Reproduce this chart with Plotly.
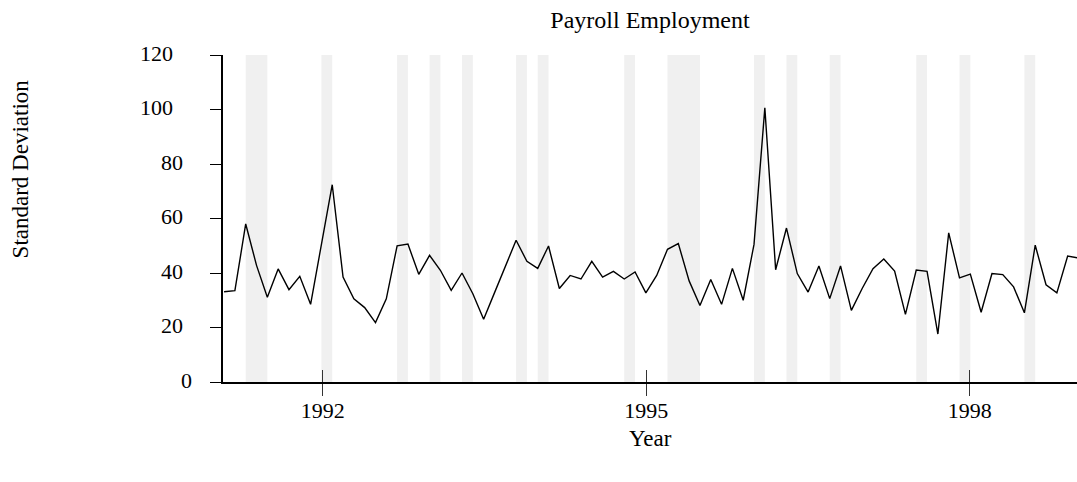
import plotly.graph_objects as go

# ---- data ----
start_year = 1991.085
step_year = 0.1003
std_dev = [
    33.1, 33.5, 58.0, 42.8, 31.1, 41.5, 33.9, 38.8, 28.5, 50.5,
    72.4, 38.5, 30.5, 27.3, 21.8, 30.5, 50.0, 50.6, 39.5, 46.5,
    41.0, 33.6, 40.0, 32.4, 23.0, 32.7, 42.3, 52.0, 44.3, 41.7,
    49.9, 34.3, 39.1, 37.8, 44.3, 38.5, 40.6, 37.8, 40.4, 32.7,
    39.1, 48.7, 50.8, 37.1, 28.1, 37.6, 28.5, 41.7, 30.0, 50.5,
    100.6, 41.2, 56.5, 39.8, 33.0, 42.6, 30.6, 42.6, 26.3, 34.3,
    41.6, 45.1, 40.7, 24.8, 41.1, 40.6, 17.6, 54.7, 38.2, 39.6,
    25.6, 39.8, 39.4, 34.9, 25.4, 50.2, 35.7, 32.7, 46.2, 45.5,
]
years = [round(start_year + step_year * i, 4) for i in range(len(std_dev))]

# shaded periods, as (start index, end index) into the series
shade_periods = [(2, 4), (9, 10), (16, 17), (19, 20), (22, 23), (27, 28), (29, 30),
                 (37, 38), (41, 44), (49, 50), (52, 53), (56, 57), (64, 65),
                 (68, 69), (74, 75)]

x_tick_vals = [1992, 1995, 1998]
x_tick_text = ["1992", "1995", "1998"]
y_tick_vals = [0, 20, 40, 60, 80, 100, 120]
y_tick_text = ["0", "20", "40", "60", "80", "100", "120"]

FONT = "Liberation Serif, Times New Roman, serif"
FS = 22

fig = go.Figure()
fig.add_trace(go.Scatter(x=years, y=std_dev, mode="lines",
                         line=dict(color="black", width=1.4),
                         hoverinfo="x+y", showlegend=False))
# invisible trace on the overlay axis so its ticks are drawn
fig.add_trace(go.Scatter(x=[years[0]], y=[0], xaxis="x2", mode="markers",
                         marker=dict(opacity=0), showlegend=False, hoverinfo="skip"))

for a, b in shade_periods:
    fig.add_shape(type="rect", xref="x", yref="paper", x0=years[a], x1=years[b],
                  y0=0, y1=1, fillcolor="#f0f0f0", line=dict(width=0), layer="below")

annotations = []
for v, t in zip(y_tick_vals, y_tick_text):
    n = len(t)
    annotations.append(dict(x=0, xref="paper", y=v, yref="y", text=t, showarrow=False,
                            xanchor="right", yanchor="middle",
                            xshift=-48 + 9.5 * (3 - n), yshift=2,
                            font=dict(family=FONT, size=FS, color="black")))
annotations.append(dict(x=-0.237, xref="paper", y=0.652, yref="paper",
                        text="Standard Deviation", textangle=-90, showarrow=False,
                        xanchor="center", yanchor="middle",
                        font=dict(family=FONT, size=23, color="black")))
annotations.append(dict(x=0.5, xref="paper", y=-0.172, yref="paper", text="Year",
                        showarrow=False, xanchor="center", yanchor="middle",
                        font=dict(family=FONT, size=23, color="black")))

x_range = [1991.075, 1998.995]
fig.update_layout(
    width=1077, height=482,
    margin=dict(l=223, r=0, t=55, b=100),
    paper_bgcolor="white", plot_bgcolor="white",
    font=dict(family=FONT, size=FS, color="black"),
    title=dict(text="Payroll Employment", x=0.5, xref="paper", xanchor="center",
               y=1 - 20 / 482, yref="container", yanchor="middle",
               font=dict(family=FONT, size=24, color="black")),
    xaxis=dict(range=x_range, tickvals=x_tick_vals, ticktext=x_tick_text,
               showgrid=False, zeroline=False, showline=True, linecolor="black",
               linewidth=2, ticks="outside", ticklen=12, tickwidth=1, tickcolor="#333",
               ticklabelstandoff=-4,
               tickfont=dict(family=FONT, size=FS, color="black")),
    xaxis2=dict(range=x_range, overlaying="x", side="bottom", tickvals=x_tick_vals,
                showticklabels=False, showgrid=False, zeroline=False, showline=False,
                ticks="inside", ticklen=12, tickwidth=1, tickcolor="#333"),
    yaxis=dict(range=[0, 120], tickvals=y_tick_vals, showticklabels=False,
               showgrid=False, zeroline=False, showline=True, linecolor="black",
               linewidth=2, ticks="outside", ticklen=11, tickwidth=1, tickcolor="black"),
    annotations=annotations,
)
fig.write_html("out.html", config={"displayModeBar": False},
               post_script="document.body.style.margin='0';document.body.style.overflow='hidden';")
